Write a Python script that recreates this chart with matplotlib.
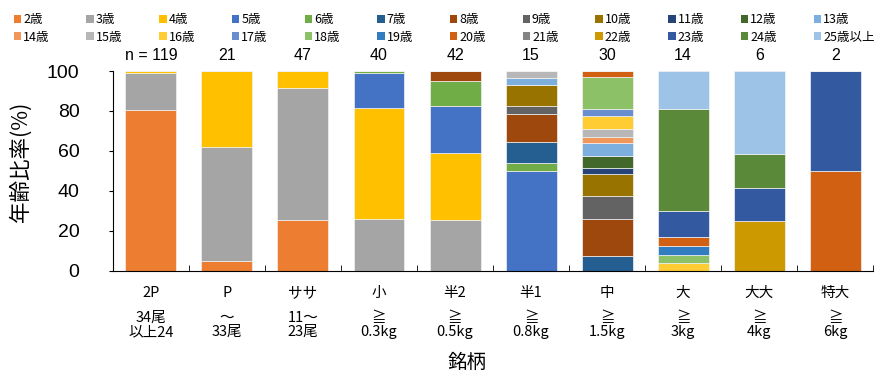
import numpy as np
import matplotlib
matplotlib.use("Agg")
import matplotlib.pyplot as plt
from matplotlib.patches import Patch

plt.rcParams['font.family'] = ['Noto Sans CJK JP', 'DejaVu Sans']

# categories (銘柄) and sample sizes
grades = ["2P", "P", "ササ", "小", "半2", "半1", "中", "大", "大大", "特大"]
grade_sub = ["34尾\n以上24", "～\n33尾", "11～\n23尾", "≧\n0.3kg", "≧\n0.5kg",
             "≧\n0.8kg", "≧\n1.5kg", "≧\n3kg", "≧\n4kg", "≧\n6kg"]
n_counts = ["n = 119", "21", "47", "40", "42", "15", "30", "14", "6", "2"]

ages = ["2歳", "3歳", "4歳", "5歳", "6歳", "7歳", "8歳", "9歳", "10歳", "11歳", "12歳", "13歳",
        "14歳", "15歳", "16歳", "17歳", "18歳", "19歳", "20歳", "21歳", "22歳", "23歳", "24歳", "25歳以上"]
colors = ["#ED7D31", "#A5A5A5", "#FFC000", "#4472C4", "#70AD47", "#255E91",
          "#9E480E", "#636363", "#997300", "#264478", "#43682B", "#7CAFDD",
          "#F1975A", "#B7B7B7", "#FFCD33", "#698ED0", "#8CC168", "#327DC2",
          "#D26012", "#848484", "#CC9A00", "#335AA1", "#5A8A39", "#9DC3E6"]

# age ratio (%) per grade, one list per age class
age2 = [80.7, 4.8, 25.5, 0, 0, 0, 0, 0, 0, 0]
age3 = [18.5, 57.1, 66.0, 26.0, 25.2, 0, 0, 0, 0, 0]
age4 = [0.8, 38.1, 8.5, 55.3, 33.7, 0, 0, 0, 0, 0]
age5 = [0, 0, 0, 17.8, 23.7, 50.1, 0, 0, 0, 0]
age6 = [0, 0, 0, 0.9, 12.5, 3.7, 0, 0, 0, 0]
age7 = [0, 0, 0, 0, 0, 10.5, 7.5, 0, 0, 0]
age8 = [0, 0, 0, 0, 4.9, 14.3, 18.5, 0, 0, 0]
age9 = [0, 0, 0, 0, 0, 3.7, 11.6, 0, 0, 0]
age10 = [0, 0, 0, 0, 0, 10.7, 10.8, 0, 0, 0]
age11 = [0, 0, 0, 0, 0, 0, 3.2, 0, 0, 0]
age12 = [0, 0, 0, 0, 0, 0, 5.7, 0, 0, 0]
age13 = [0, 0, 0, 0, 0, 3.5, 6.6, 0, 0, 0]
age14 = [0, 0, 0, 0, 0, 0, 3.0, 0, 0, 0]
age15 = [0, 0, 0, 0, 0, 3.5, 4.0, 0, 0, 0]
age16 = [0, 0, 0, 0, 0, 0, 6.6, 4.0, 0, 0]
age17 = [0, 0, 0, 0, 0, 0, 3.3, 0, 0, 0]
age18 = [0, 0, 0, 0, 0, 0, 16.3, 3.8, 0, 0]
age19 = [0, 0, 0, 0, 0, 0, 0, 4.6, 0, 0]
age20 = [0, 0, 0, 0, 0, 0, 2.9, 4.3, 0, 50.0]
age21 = [0, 0, 0, 0, 0, 0, 0, 0, 0, 0]
age22 = [0, 0, 0, 0, 0, 0, 0, 0, 25.0, 0]
age23 = [0, 0, 0, 0, 0, 0, 0, 13.3, 16.6, 50.0]
age24 = [0, 0, 0, 0, 0, 0, 0, 51.0, 16.7, 0]
age25 = [0, 0, 0, 0, 0, 0, 0, 19.0, 41.7, 0]

series = [age2, age3, age4, age5, age6, age7, age8, age9, age10, age11, age12, age13,
          age14, age15, age16, age17, age18, age19, age20, age21, age22, age23, age24, age25]

fig = plt.figure(figsize=(8.75, 3.76), dpi=100)
ax = fig.add_axes([0.129, 0.280, 0.869, 0.531])

x = np.arange(len(grades))
bottom = np.zeros(len(grades))
for vals, col in zip(series, colors):
    vals = np.array(vals, dtype=float)
    ax.bar(x, vals, bottom=bottom, width=0.67, color=col, edgecolor="#f2f2f2", linewidth=0.5)
    bottom += vals

for xi, label in zip(x, n_counts):
    ax.text(xi, 104, label, ha="center", va="bottom", fontsize=11.5, family="Liberation Sans")

ax.set_xlim(-0.5, len(grades) - 0.5)
ax.set_ylim(0, 100)
ax.set_yticks(np.arange(0, 101, 20))
for t in ax.get_yticklabels():
    t.set_family("Liberation Sans")
    t.set_fontsize(14)
ax.tick_params(axis="y", direction="out", length=3, pad=21)

ax.set_xticks(x)
ax.set_xticklabels(grades, fontsize=10.5)
ax.tick_params(axis="x", length=0, pad=11)
ax.set_xticks(np.arange(-0.5, len(grades), 1), minor=True)
ax.tick_params(axis="x", which="minor", direction="in", length=4)

trans = ax.get_xaxis_transform()
for xi, sub in zip(x, grade_sub):
    ax.text(xi, -0.2, sub, transform=trans, ha="center", va="top",
            fontsize=10.5, linespacing=1.05)

ax.spines["top"].set_visible(False)
ax.spines["right"].set_visible(False)

fig.text(0.534, 0.037, "銘柄", ha="center", va="center", fontsize=14)
fig.text(0.024, 0.569, "年齢比率(%)", ha="center", va="center", rotation=90, fontsize=15.5)

# legend: two rows of twelve, filled column by column
order = [i for c in range(12) for i in (c, c + 12)]
handles = [Patch(facecolor=colors[i], label=ages[i]) for i in order]
fig.legend(handles=handles, ncol=12, loc="upper left", bbox_to_anchor=(0.007, 0.985),
           frameon=False, fontsize=9, handlelength=0.6, handleheight=0.6,
           handletextpad=0.15, columnspacing=2.95, labelspacing=0.35, borderaxespad=0.2)

fig.savefig("out.png", dpi=100)
